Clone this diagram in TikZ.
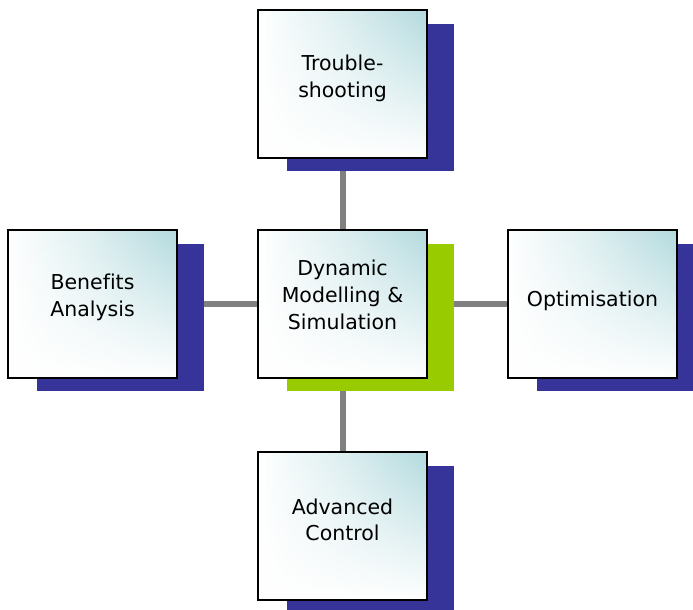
\documentclass[tikz,border=0pt]{standalone}
\usepackage{fontspec}
\setmainfont[Ligatures=NoCommon]{DejaVu Sans}
\usetikzlibrary{calc,fadings}
\definecolor{navy}{HTML}{363399}
\definecolor{lime}{HTML}{99CC00}
\definecolor{teal1}{HTML}{B2DADE}
\definecolor{conn}{HTML}{808080}
\begin{document}
\begin{tikzpicture}[x=1pt,y=-1pt,
  box/.style={draw=black,line width=1.6pt,minimum width=169pt,minimum height=148pt,inner sep=0pt,
    left color=white,right color=teal1,middle color=white!55!teal1},
  whiteveil/.style={minimum width=169pt,minimum height=148pt,inner sep=0pt,fill=white,path fading=north},
  shadowbox/.style={minimum width=167pt,minimum height=147pt,inner sep=0pt,fill=#1},
  lbl/.style={align=center,font=\fontsize{20.5}{26.7}\selectfont,text=black},
  connector/.style={draw=conn,line width=6pt}]
\useasboundingbox (0,0) rectangle (693,610);
% box coordinates
\coordinate (ct) at (342.5,84);
\coordinate (cc) at (342.5,304);
\coordinate (cl) at (92.5,304);
\coordinate (cr) at (592.5,304);
\coordinate (cb) at (342.5,526);
% connectors (behind)
\draw[connector] (ct) -- (cc);
\draw[connector] (cc) -- (cb);
\draw[connector] (cl) -- (cc);
\draw[connector] (cc) -- (cr);
% shadows
\node[shadowbox=navy] (st) at ($(ct)+(27.5,13.5)$) {};
\node[shadowbox=lime] (sc) at ($(cc)+(27.5,13.5)$) {};
\node[shadowbox=navy] (sl) at ($(cl)+(27.5,13.5)$) {};
\node[shadowbox=navy] (sr) at ($(cr)+(27.5,13.5)$) {};
\node[shadowbox=navy] (sb) at ($(cb)+(27.5,13.5)$) {};
% boxes: shading, white veil toward bottom, then border
\foreach \c in {ct,cc,cl,cr,cb}{
  \node[box,draw=none] (f\c) at (\c) {};
  \node[whiteveil] (v\c) at (\c) {};
  \node[draw=black,line width=1.6pt,minimum width=169pt,minimum height=148pt,inner sep=0pt] (b\c) at (\c) {};
}
% labels
\node[lbl] (tt) at ($(bct)+(0,-6)$) {Trouble-\\shooting};
\node[lbl] (tc) at ($(bcc)+(0,-9)$) {Dynamic\\Modelling \&\\Simulation};
\node[lbl] (tl) at ($(bcl)+(0,-7)$) {Benefits\\Analysis};
\node[lbl] (tr) at ($(bcr)+(0,-3)$) {Optimisation};
\node[lbl] (tb) at ($(bcb)+(0,-6)$) {Advanced\\Control};
\end{tikzpicture}
\end{document}
